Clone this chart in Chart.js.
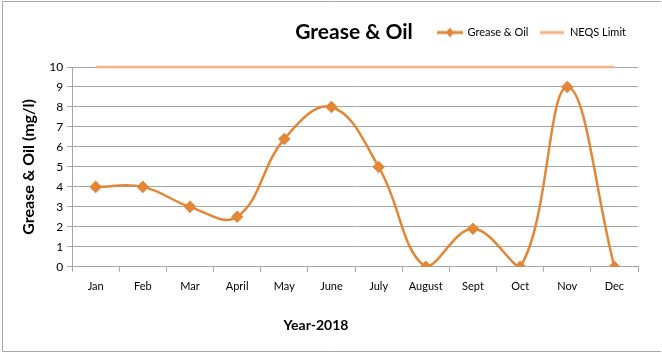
<!DOCTYPE html>
<html>
<head>
<meta charset="utf-8">
<script src="https://cdn.jsdelivr.net/npm/chart.js@4.4.1/dist/chart.umd.min.js"></script>
<style>
    html, body { margin: 0; padding: 0; background: #ffffff; }
    #wrap { width: 662px; height: 354px; position: relative; }
</style>
</head>
<body>
<div id="wrap"><canvas id="grafico" width="662" height="354"></canvas></div>
<script>
const months = ['Jan', 'Feb', 'Mar', 'April', 'May', 'June', 'July', 'August', 'Sept', 'Oct', 'Nov', 'Dec'];
const greaseOil = [4, 4, 3, 2.5, 6.4, 8, 5, 0, 1.9, 0, 9, 0];
const neqsLimit = [10, 10, 10, 10, 10, 10, 10, 10, 10, 10, 10, 10];
const yTicks = [0, 1, 2, 3, 4, 5, 6, 7, 8, 9, 10];

const corLinha = 'rgb(226, 135, 56)';
const corLimite = 'rgb(244, 177, 131)';
const fonte = 'Lato, "Open Sans", Arial, sans-serif';

// marcador da legenda: linha com losango
function marcadorLegenda() {
    const c = document.createElement('canvas');
    c.width = 26;
    c.height = 12;
    const g = c.getContext('2d');
    g.strokeStyle = corLinha;
    g.lineWidth = 3;
    g.beginPath();
    g.moveTo(0, 6);
    g.lineTo(26, 6);
    g.stroke();
    g.fillStyle = corLinha;
    g.beginPath();
    g.moveTo(13, 1);
    g.lineTo(17, 6);
    g.lineTo(13, 11);
    g.lineTo(9, 6);
    g.closePath();
    g.fill();
    return c;
}

function marcadorLimite() {
    const c = document.createElement('canvas');
    c.width = 24;
    c.height = 12;
    const g = c.getContext('2d');
    g.strokeStyle = corLimite;
    g.lineWidth = 3;
    g.beginPath();
    g.moveTo(0, 6);
    g.lineTo(24, 6);
    g.stroke();
    return c;
}

// caixa vazia entre a legenda e o grafico
const espacador = {
    id: 'espacador',
    beforeInit(chart) {
        Chart.layouts.addBox(chart, {
            position: 'top',
            weight: 0,
            fullSize: true,
            options: {},
            width: 0,
            height: 0,
            update(w) {
                this.width = w;
                this.height = 19;
            },
            isHorizontal() { return true; },
            getPadding() { return { top: 0, left: 0, right: 0, bottom: 0 }; },
            draw() {}
        });
    }
};

const tituloEBorda = {
    id: 'tituloEBorda',
    afterDraw(chart) {
        const ctx = chart.ctx;
        ctx.save();
        ctx.strokeStyle = '#a6a6a6';
        ctx.lineWidth = 1;
        ctx.beginPath();
        ctx.moveTo(2.5, 351.5);
        ctx.lineTo(2.5, 1.5);
        ctx.lineTo(661, 1.5);
        ctx.moveTo(2.5, 351.5);
        ctx.lineTo(661, 351.5);
        ctx.stroke();
        ctx.fillStyle = '#000000';
        ctx.font = 'bold 21px ' + fonte;
        ctx.textAlign = 'center';
        ctx.textBaseline = 'middle';
        ctx.fillText('Grease & Oil', 354, 32);
        // titulo do eixo x (fora do centro, como no original)
        ctx.font = 'bold 14px ' + fonte;
        ctx.fillText('Year-2018', 316, 325);
        ctx.restore();
    }
};

const ctx = document.getElementById('grafico').getContext('2d');

new Chart(ctx, {
    type: 'line',
    data: {
        labels: months,
        datasets: [{
            label: 'Grease & Oil',
            data: greaseOil,
            borderColor: corLinha,
            backgroundColor: corLinha,
            borderWidth: 2.5,
            tension: 0.4,
            pointStyle: 'rectRot',
            pointRadius: 4.5,
            pointHoverRadius: 4.5,
            order: 1
        }, {
            label: 'NEQS Limit',
            data: neqsLimit,
            borderColor: corLimite,
            backgroundColor: corLimite,
            borderWidth: 2.5,
            pointRadius: 0,
            clip: false,
            order: 2
        }]
    },
    options: {
        responsive: false,
        animation: false,
        devicePixelRatio: 1,
        layout: {
            padding: { left: 15, right: 24, top: 15, bottom: 53 }
        },
        plugins: {
            title: { display: false },
            tooltip: { enabled: false },
            legend: {
                position: 'top',
                align: 'end',
                labels: {
                    usePointStyle: true,
                    pointStyleWidth: 24,
                    generateLabels: function (chart) {
                        const estilos = [marcadorLegenda(), marcadorLimite()];
                        return chart.data.datasets.map((ds, i) => ({
                            text: ds.label,
                            pointStyle: estilos[i],
                            datasetIndex: i,
                            fontColor: '#000000',
                            lineWidth: 0,
                            strokeStyle: 'transparent',
                            fillStyle: 'transparent'
                        }));
                    },
                    color: '#000000',
                    font: { family: fonte, size: 11 },
                    padding: 12
                }
            }
        },
        scales: {
            x: {
                offset: true,
                grid: {
                    display: true,
                    drawOnChartArea: false,
                    offset: true,
                    tickLength: 5,
                    color: '#a6a6a6'
                },
                border: { color: '#a6a6a6' },
                ticks: {
                    color: '#000000',
                    font: { family: fonte, size: 11 },
                    padding: 8,
                    maxRotation: 0,
                    autoSkip: false
                },
                title: { display: false }
            },
            y: {
                min: 0,
                max: 10,
                afterBuildTicks: function (axis) {
                    axis.ticks = yTicks.map(v => ({ value: v }));
                },
                grid: {
                    color: '#a6a6a6',
                    tickLength: 5
                },
                border: { color: '#a6a6a6' },
                ticks: {
                    color: '#000000',
                    font: { family: fonte, size: 12 },
                    padding: 4
                },
                title: {
                    display: true,
                    text: 'Grease & Oil (mg/l)',
                    color: '#000000',
                    font: { family: fonte, size: 16, weight: 'bold' },
                    padding: { top: 4, bottom: 7 }
                }
            }
        }
    },
    plugins: [espacador, tituloEBorda]
});
</script>
</body>
</html>
